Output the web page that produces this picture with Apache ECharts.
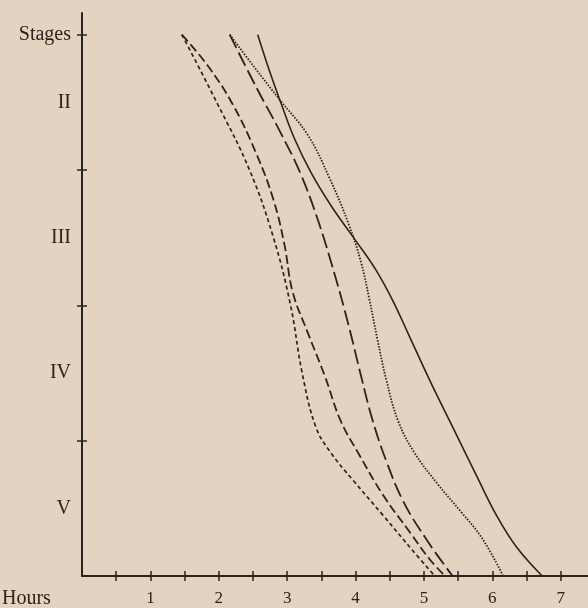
<!DOCTYPE html>
<html>
<head>
<meta charset="utf-8">
<script src="https://cdn.jsdelivr.net/npm/echarts@6/dist/echarts.min.js"></script>
<style>
html,body{margin:0;padding:0;background:#e3d3c0;}
#chart{width:588px;height:608px;}
</style>
</head>
<body>
<div id="chart"></div>
<script>
// ---- data (hours, stage position 0..4 from top) ----
const xTickValues = [0.5,1,1.5,2,2.5,3,3.5,4,4.5,5,5.5,6,6.5,7];
const xLabelValues = [1,2,3,4,5,6,7];
const stageTickValues = [0,1,2,3];
const stageLabelValues = [0,0.5,1.5,2.5,3.5];
const stageLabelTexts = ['Stages','II','III','IV','V'];

const curveShortDash = [[1.46,0],[1.97,0.50],[2.45,1.00],[2.80,1.50],[3.05,2.00],[3.22,2.50],[3.42,2.90],[3.64,3.09],[3.96,3.29],[4.40,3.55],[4.85,3.82],[5.16,4]];
const curveMediumDash = [[1.46,0],[1.84,0.23],[2.21,0.52],[2.55,0.88],[2.80,1.22],[2.96,1.55],[3.08,1.90],[3.30,2.20],[3.55,2.52],[3.78,2.85],[4.05,3.10],[4.40,3.40],[4.80,3.68],[5.09,3.88],[5.31,4]];
const curveLongDash = [[2.16,0],[2.56,0.40],[2.90,0.72],[3.19,1.02],[3.45,1.37],[3.70,1.78],[3.90,2.15],[4.08,2.52],[4.25,2.85],[4.45,3.15],[4.70,3.45],[5.05,3.74],[5.42,4]];
const curveDotted = [[2.16,0],[2.52,0.24],[2.89,0.48],[3.30,0.74],[3.62,1.06],[3.90,1.40],[4.08,1.68],[4.20,1.95],[4.32,2.25],[4.45,2.55],[4.62,2.85],[4.85,3.08],[5.20,3.32],[5.55,3.53],[5.85,3.72],[6.16,4]];
const curveSolid = [[2.57,0],[2.75,0.28],[2.92,0.52],[3.10,0.76],[3.35,1.02],[3.65,1.27],[4.00,1.52],[4.30,1.74],[4.55,1.97],[4.78,2.22],[5.10,2.57],[5.45,2.93],[5.78,3.27],[6.07,3.56],[6.36,3.79],[6.73,4]];

const ink = '#2a241f';
const serif = '"Liberation Serif", "DejaVu Serif", serif';

function mkSeries(data, type, width) {
  return {
    type: 'line', data: data, xAxisIndex: 0, yAxisIndex: 0,
    showSymbol: false, smooth: 0.4, silent: true,
    lineStyle: {color: ink, width: width, type: type}
  };
}

const chart = echarts.init(document.getElementById('chart'), null, {renderer: 'canvas'});
chart.setOption({
  backgroundColor: '#e3d3c0',
  animation: false,
  grid: {left: 82, right: 0, top: 13, bottom: 32, containLabel: false},
  xAxis: [
    {type: 'value', min: 0, max: 7.4, position: 'bottom',
     axisLine: {show: true, onZero: false, lineStyle: {color: ink, width: 2}},
     axisTick: {show: true, customValues: xTickValues, length: 5, inside: false, lineStyle: {color: ink, width: 1.5}},
     axisLabel: {show: true, customValues: xLabelValues, margin: 14, color: ink, fontFamily: serif, fontSize: 17},
     splitLine: {show: false}},
    {type: 'value', min: 0, max: 7.4, position: 'bottom',
     axisLine: {show: false, onZero: false},
     axisTick: {show: true, customValues: xTickValues, length: 5, inside: true, lineStyle: {color: ink, width: 1.5}},
     axisLabel: {show: false}, splitLine: {show: false}}
  ],
  yAxis: [
    {type: 'value', min: -0.16, max: 4, inverse: true, position: 'left',
     axisLine: {show: true, onZero: false, lineStyle: {color: ink, width: 2}},
     axisTick: {show: true, customValues: stageTickValues, length: 5, inside: false, lineStyle: {color: ink, width: 1.5}},
     axisLabel: {show: true, customValues: stageLabelValues, margin: 11, color: ink, fontFamily: serif, fontSize: 20,
       formatter: function (v) { const i = stageLabelValues.indexOf(v); return i >= 0 ? stageLabelTexts[i] : ''; }},
     splitLine: {show: false}},
    {type: 'value', min: -0.16, max: 4, inverse: true, position: 'left',
     axisLine: {show: false, onZero: false},
     axisTick: {show: true, customValues: stageTickValues, length: 5, inside: true, lineStyle: {color: ink, width: 1.5}},
     axisLabel: {show: false}, splitLine: {show: false}}
  ],
  graphic: [
    {type: 'text', left: 2, top: 589, style: {text: 'Hours', fill: ink, font: '20px ' + serif}}
  ],
  series: [
    mkSeries(curveShortDash, [4, 3], 1.7),
    mkSeries(curveMediumDash, [9, 4], 1.8),
    mkSeries(curveLongDash, [15, 5], 1.8),
    mkSeries(curveDotted, [1.5, 1.5], 1.8),
    mkSeries(curveSolid, 'solid', 1.6)
  ]
});
</script>
</body>
</html>
